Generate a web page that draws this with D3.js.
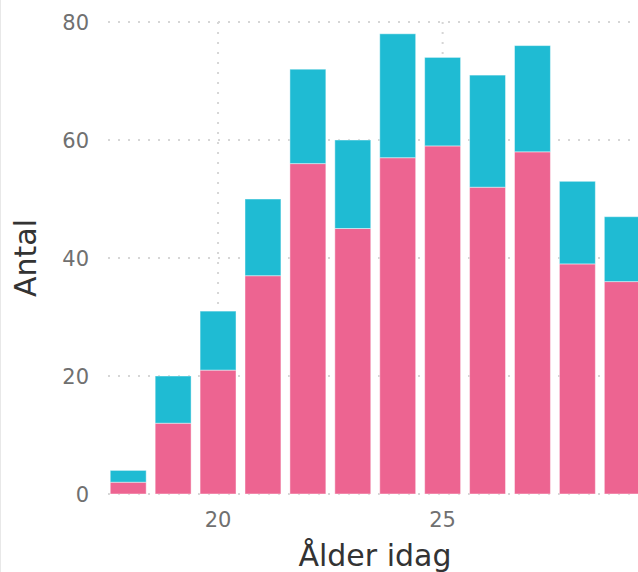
<!DOCTYPE html>
<html>
<head>
<meta charset="utf-8">
<script src="https://cdn.jsdelivr.net/npm/d3@7"></script>
<style>
  body { margin: 0; background: #fff; }
  svg { display: block; font-family: "DejaVu Sans", sans-serif; }
</style>
</head>
<body>
<script>
// Åldrar och antal per grupp
let ages = [18, 19, 20, 21, 22, 23, 24, 25, 26, 27, 28, 29];
let pinkValues = [2, 12, 21, 37, 56, 45, 57, 59, 52, 58, 39, 36];
let cyanValues = [2, 8, 10, 13, 16, 15, 21, 15, 19, 18, 14, 11];
let xTicks = [20, 25];
let yTicks = [0, 20, 40, 60, 80];

let colors = {
  "pink": "#ED6491",
  "cyan": "#1FBBD3"
};

let width = 638, height = 572;

let svg = d3.select("body").append("svg")
    .attr("width", width)
    .attr("height", height);

let x = d3.scaleLinear().domain([17.55, 29.55]).range([108, 647]);
let y = d3.scaleLinear().domain([0, 80]).range([494, 22]);
let barW = x(0.8) - x(0);

// left border
svg.append("line")
    .attr("x1", 0.5).attr("x2", 0.5)
    .attr("y1", 0).attr("y2", height)
    .style("stroke", "#e8e8e8");

// grid
let grid = svg.append("g");
yTicks.forEach(function(t) {
  grid.append("line")
      .attr("x1", x.range()[0]).attr("x2", width)
      .attr("y1", y(t)).attr("y2", y(t))
      .style("stroke", "#d6d6d6")
      .style("stroke-width", 2)
      .style("stroke-dasharray", "2,8");
});
xTicks.forEach(function(t) {
  grid.append("line")
      .attr("x1", x(t)).attr("x2", x(t))
      .attr("y1", y(0)).attr("y2", 17)
      .style("stroke", "#d6d6d6")
      .style("stroke-width", 2)
      .style("stroke-dasharray", "2,8");
});

// stacked data
let rows = ages.map(function(a, i) {
  return { age: a, pink: pinkValues[i], cyan: cyanValues[i] };
});
let stack = d3.stack().keys(["pink", "cyan"])(rows);

svg.append("g").selectAll("g")
    .data(stack)
    .enter().append("g")
    .style("fill", function(s) { return colors[s.key]; })
    .selectAll("rect")
    .data(function(s) { return s; })
    .enter().append("rect")
    .attr("x", function(d) { return x(d.data.age) - barW / 2; })
    .attr("width", barW)
    .attr("y", function(d) { return y(d[1]); })
    .attr("height", function(d) { return y(d[0]) - y(d[1]); })
    .style("stroke", "rgba(255,255,255,0.45)")
    .style("stroke-width", 1);

// y ticks
svg.append("g").selectAll("text")
    .data(yTicks)
    .enter().append("text")
    .attr("x", 89)
    .attr("y", function(t) { return y(t); })
    .attr("dy", "0.36em")
    .attr("text-anchor", "end")
    .style("font-size", "21px")
    .style("fill", "#707070")
    .text(function(t) { return t; });

// x ticks
svg.append("g").selectAll("text")
    .data(xTicks)
    .enter().append("text")
    .attr("x", function(t) { return x(t); })
    .attr("y", 527)
    .attr("text-anchor", "middle")
    .style("font-size", "21px")
    .style("fill", "#707070")
    .text(function(t) { return t; });

// axis titles
svg.append("text")
    .attr("x", 375)
    .attr("y", 566)
    .attr("text-anchor", "middle")
    .style("font-size", "30px")
    .style("fill", "#333")
    .text("Ålder idag");

svg.append("text")
    .attr("transform", "translate(36,258) rotate(-90)")
    .attr("text-anchor", "middle")
    .style("font-size", "30px")
    .style("fill", "#333")
    .text("Antal");
</script>
</body>
</html>
